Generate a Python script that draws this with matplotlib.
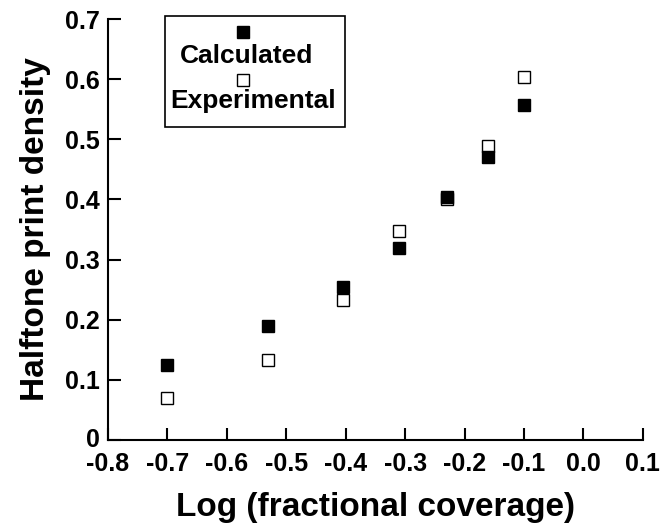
import matplotlib
matplotlib.use('Agg')
import matplotlib.pyplot as plt
from matplotlib.patches import Rectangle
from matplotlib.transforms import ScaledTranslation

# Data
log_coverage = [-0.70, -0.53, -0.405, -0.31, -0.23, -0.16, -0.10]
calculated = [0.124, 0.190, 0.255, 0.320, 0.404, 0.471, 0.557]
experimental = [0.070, 0.133, 0.232, 0.348, 0.400, 0.489, 0.604]

x_ticks = [-0.8, -0.7, -0.6, -0.5, -0.4, -0.3, -0.2, -0.1, 0.0, 0.1]
x_labels = ['-0.8', '-0.7', '-0.6', '-0.5', '-0.4', '-0.3', '-0.2', '-0.1', '0.0', '0.1']
y_ticks = [0, 0.1, 0.2, 0.3, 0.4, 0.5, 0.6, 0.7]
y_labels = ['0', '0.1', '0.2', '0.3', '0.4', '0.5', '0.6', '0.7']

plt.rcParams['font.family'] = ['Liberation Sans', 'DejaVu Sans']
plt.rcParams['font.weight'] = 'bold'

fig = plt.figure(figsize=(6.6, 5.28), dpi=100)
ax = fig.add_axes([0.1636, 0.1667, 0.8104, 0.7973])

#Plot data
ax.plot(log_coverage, experimental, 's', ms=8.5, mfc='white', mec='black', mew=1.0, zorder=2)
ax.plot(log_coverage, calculated, 's', ms=8.5, mfc='black', mec='black', mew=1.0, zorder=3)

ax.set_xlim(-0.8, 0.1)
ax.set_ylim(0, 0.7)
ax.set_xticks(x_ticks)
ax.set_xticklabels(x_labels)
ax.set_yticks(y_ticks)
ax.set_yticklabels(y_labels)

for side in ['top', 'right']:
    ax.spines[side].set_visible(False)
for side in ['left', 'bottom']:
    ax.spines[side].set_linewidth(1.5)
ax.tick_params(direction='in', length=9, width=1.5, labelsize=18, pad=6)
ax.tick_params(axis='x', pad=9)

# nudge the "0" label up a little so it clears the "-0.8" below it
zero_label = ax.get_yticklabels()[0]
zero_label.set_transform(zero_label.get_transform() + ScaledTranslation(0, 2 / 72, fig.dpi_scale_trans))

ax.set_xlabel('Log (fractional coverage)', fontsize=24, fontweight='bold', labelpad=11)
ax.set_ylabel('Halftone print density', fontsize=24, fontweight='bold', labelpad=10)

#Legend drawn by hand: markers above the text
ax.add_patch(Rectangle((0.1065, 0.743), 0.3365, 0.264, transform=ax.transAxes,
                       fill=False, edgecolor='black', linewidth=1.2, clip_on=False))
ax.plot([0.252], [0.969], 's', ms=8, mfc='black', mec='black', transform=ax.transAxes, clip_on=False)
ax.plot([0.252], [0.855], 's', ms=8, mfc='white', mec='black', mew=1.0, transform=ax.transAxes, clip_on=False)
ax.text(0.26, 0.912, 'Calculated', transform=ax.transAxes, ha='center', va='center', fontsize=19, fontweight='bold')
ax.text(0.272, 0.806, 'Experimental', transform=ax.transAxes, ha='center', va='center', fontsize=19, fontweight='bold')

fig.savefig('out.png', dpi=100)
